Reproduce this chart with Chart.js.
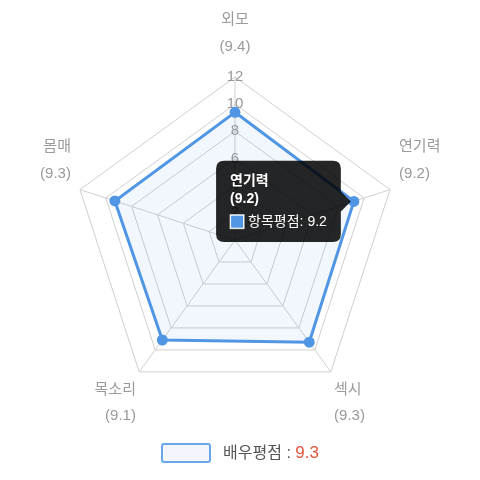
<!DOCTYPE html>
<html>
<head>
<meta charset="utf-8">
<script src="https://cdn.jsdelivr.net/npm/chart.js@4"></script>
<style>
  body { margin: 0; background: #fff; overflow: hidden; font-family: 'Liberation Sans', 'Noto Sans CJK KR', sans-serif; }
  #wrap { position: absolute; left: 0; top: -19px; width: 483px; height: 466px; }
  #legend { position: absolute; left: 0; top: 442px; width: 480px; text-align: center; font-size: 16px; color: #555; line-height: 20px; }
  #legend .box { display: inline-block; width: 46px; height: 16px; border: 2px solid #6aa6ea; border-radius: 3px; background: #f3f7fd; vertical-align: middle; margin-right: 12px; }
  #legend span { vertical-align: middle; }
  #legend .num { color: #e5553c; font-size: 17px; }
</style>
</head>
<body>
<div id="wrap"><canvas id="radar_score"></canvas></div>
<div id="legend"><span class="box"></span><span>배우평점 : </span><span class="num">9.3</span></div>
<script>
var categories = ["외모", "연기력", "섹시", "목소리", "몸매"];
var scores = [9.4, 9.2, 9.3, 9.1, 9.3];
var seriesLabel = "항목평점";
var totalScore = 9.3;

// distance between the outer ring and its label: top, sides, bottom
function labelPadding(ctx) {
    var n = categories.length;
    var angle = ctx.index * 360 / n;
    if (angle === 0) return 8;
    if (angle > 90 && angle < 270) return -4;
    return 0;
}

function radar_score() {
    // point labels are two lines: name and score in brackets
    var labels = categories.map(function (c, i) { return [c, '(' + scores[i] + ')']; });
    var ctx = document.getElementById("radar_score").getContext('2d');
    var myChart = new Chart(ctx, {
        type: 'radar',
        data: {
            labels: labels,
            datasets: [{
                label: seriesLabel,
                data: scores,
                backgroundColor: 'rgba(74, 144, 226, 0.07)',
                borderColor: 'rgba(80, 150, 228, 1)',
                borderWidth: 3,
                pointRadius: 4,
                pointBackgroundColor: 'rgba(80, 150, 228, 1)',
                pointBorderColor: 'rgba(80, 150, 228, 1)'
            }]
        },
        options: {
            responsive: true,
            maintainAspectRatio: false,
            animation: false,
            plugins: {
                legend: { display: false },
                tooltip: {
                    backgroundColor: 'rgba(0, 0, 0, 0.85)',
                    padding: { top: 12, bottom: 12, left: 14, right: 14 },
                    cornerRadius: 8,
                    caretSize: 10,
                    caretPadding: 3,
                    titleFont: { size: 14, weight: 'bold' },
                    titleSpacing: 1,
                    titleMarginBottom: 6,
                    bodyFont: { size: 14 },
                    boxPadding: 2,
                    callbacks: {
                        labelColor: function () {
                            return { borderColor: 'rgba(255,255,255,0.7)', backgroundColor: 'rgba(80, 150, 228, 1)', borderWidth: 1 };
                        }
                    }
                }
            },
            scales: {
                r: {
                    min: 0,
                    max: 12,
                    ticks: { stepSize: 2, showLabelBackdrop: false, color: '#999', font: { size: 15 } },
                    grid: { color: '#cfcfcf' },
                    angleLines: { color: '#cfcfcf' },
                    pointLabels: { color: '#9a9a9a', font: { size: 15, lineHeight: 1.75 }, padding: labelPadding }
                }
            }
        }
    });
    myChart.tooltip.setActiveElements([{ datasetIndex: 0, index: 1 }], { x: 0, y: 0 });
    myChart.update();
}

Chart.defaults.font.family = "'Liberation Sans', 'Noto Sans CJK KR', sans-serif";
radar_score();
</script>
</body>
</html>
